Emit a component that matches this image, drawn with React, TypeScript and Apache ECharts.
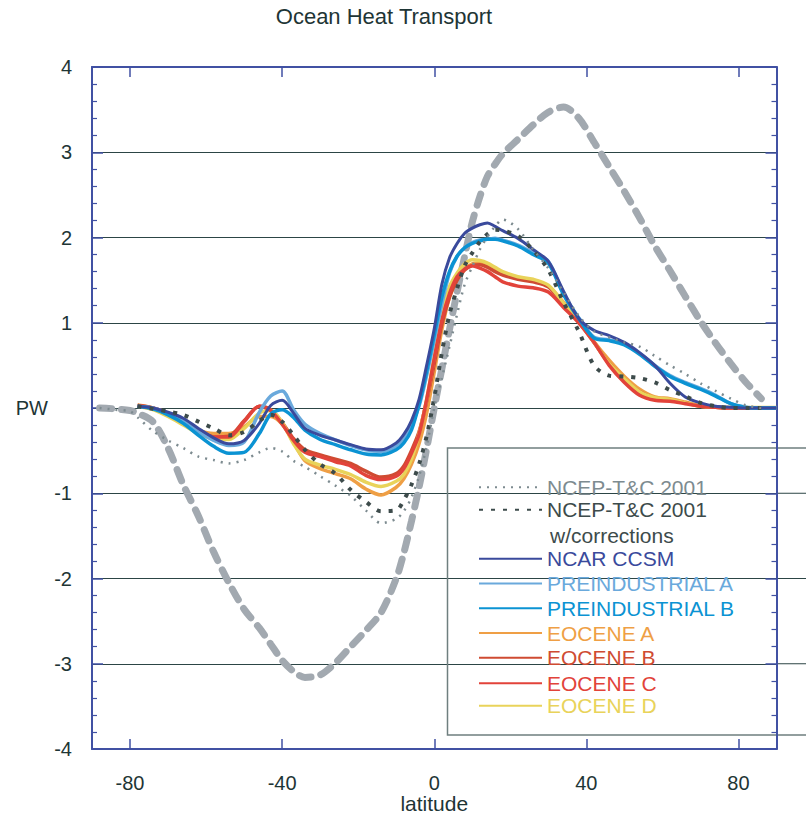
import React, { useEffect, useRef } from 'react';
import * as echarts from 'echarts';

const TITLE = 'Ocean Heat Transport';
const X_NAME = 'latitude';
const Y_NAME = 'PW';
const X_TICKS = [-80, -40, 0, 40, 80];

const LAT = [-88, -84, -80, -78, -74, -70, -66, -62, -58, -54, -50, -46, -43, -40, -37, -34, -30, -26, -22, -18, -14, -10, -8, -6, -4, -2, 0, 2, 4, 6, 8, 10, 12, 14, 16, 18, 22, 26, 30, 34, 38, 42, 46, 50, 54, 58, 62, 66, 70, 74, 78, 82, 86, 90];

const requiredTotal = [0, -0.01, -0.03, -0.06, -0.16, -0.47, -0.9, -1.27, -1.69, -2.05, -2.36, -2.58, -2.77, -2.96, -3.09, -3.16, -3.13, -2.99, -2.8, -2.61, -2.4, -2.0, -1.7, -1.33, -0.93, -0.48, 0.0, 0.46, 0.92, 1.36, 1.78, 2.18, 2.48, 2.72, 2.86, 2.98, 3.15, 3.32, 3.47, 3.53, 3.4, 3.12, 2.83, 2.54, 2.23, 1.9, 1.61, 1.31, 1.02, 0.76, 0.52, 0.3, 0.11, null];

const ncepTC = [0.0, -0.02, -0.04, -0.11, -0.27, -0.38, -0.47, -0.57, -0.61, -0.65, -0.61, -0.52, -0.47, -0.51, -0.62, -0.69, -0.8, -0.91, -1.03, -1.2, -1.35, -1.3, -1.21, -1.05, -0.8, -0.45, 0.0, 0.35, 0.72, 1.1, 1.45, 1.66, 1.86, 2.01, 2.13, 2.21, 2.1, 1.86, 1.64, 1.36, 1.08, 0.9, 0.83, 0.77, 0.72, 0.61, 0.5, 0.4, 0.29, 0.2, 0.11, 0.03, 0.0, null];

const ncepCorrected = [null, null, null, 0.02, -0.01, -0.04, -0.08, -0.16, -0.24, -0.32, -0.28, -0.15, -0.08, -0.16, -0.32, -0.49, -0.66, -0.77, -0.96, -1.1, -1.21, -1.2, -1.08, -0.9, -0.66, -0.33, 0.12, 0.65, 1.1, 1.4, 1.67, 1.82, 1.95, 2.04, 2.09, 2.08, 2.02, 1.85, 1.62, 1.24, 0.9, 0.5, 0.38, 0.37, 0.35, 0.3, 0.21, 0.14, 0.06, 0.02, 0.0, 0.0, 0.0, null];

const ncarCcsm = [null, null, null, 0.02, 0.0, -0.05, -0.12, -0.24, -0.35, -0.42, -0.38, -0.18, 0.03, 0.09, -0.06, -0.24, -0.32, -0.375, -0.43, -0.48, -0.49, -0.41, -0.31, -0.15, 0.1, 0.5, 0.93, 1.45, 1.76, 1.93, 2.05, 2.11, 2.15, 2.17, 2.13, 2.08, 1.99, 1.86, 1.72, 1.37, 1.05, 0.91, 0.85, 0.77, 0.65, 0.5, 0.29, 0.13, 0.06, 0.02, 0.01, 0.0, 0.0, 0.0];

const preindustrialA = [null, null, null, 0.02, 0.0, -0.06, -0.15, -0.28, -0.38, -0.44, -0.4, -0.05, 0.14, 0.2, -0.02, -0.19, -0.3, -0.375, -0.44, -0.49, -0.51, -0.45, -0.37, -0.2, 0.02, 0.38, 0.8, 1.22, 1.58, 1.78, 1.88, 1.94, 1.97, 1.98, 1.99, 1.97, 1.91, 1.82, 1.72, 1.34, 1.06, 0.83, 0.8, 0.75, 0.64, 0.5, 0.38, 0.3, 0.23, 0.15, 0.05, 0.01, 0.0, 0.0];

const preindustrialB = [null, null, null, 0.02, -0.01, -0.08, -0.18, -0.32, -0.45, -0.53, -0.52, -0.3, -0.07, -0.02, -0.11, -0.26, -0.37, -0.43, -0.49, -0.54, -0.55, -0.49, -0.41, -0.26, 0.04, 0.43, 0.86, 1.3, 1.6, 1.78, 1.88, 1.93, 1.96, 1.98, 1.98, 1.96, 1.9, 1.8, 1.7, 1.33, 1.05, 0.82, 0.79, 0.74, 0.63, 0.49, 0.37, 0.29, 0.22, 0.14, 0.05, 0.005, 0.0, 0.0];

const eoceneA = [null, null, null, 0.035, 0.0, -0.08, -0.17, -0.26, -0.3, -0.3, -0.22, -0.1, -0.1, -0.19, -0.4, -0.62, -0.71, -0.77, -0.83, -0.95, -1.02, -0.93, -0.83, -0.66, -0.42, -0.06, 0.42, 0.92, 1.3, 1.51, 1.63, 1.69, 1.7, 1.67, 1.62, 1.58, 1.53, 1.5, 1.43, 1.24, 1.03, 0.78, 0.56, 0.37, 0.22, 0.13, 0.11, 0.07, 0.025, 0.01, 0.005, 0.0, 0.0, 0.0];

const eoceneB = [null, null, null, 0.03, 0.0, -0.06, -0.15, -0.26, -0.34, -0.33, -0.15, 0.02, -0.02, -0.17, -0.36, -0.49, -0.55, -0.6, -0.65, -0.74, -0.81, -0.77, -0.68, -0.5, -0.28, 0.08, 0.52, 0.98, 1.3, 1.5, 1.62, 1.67, 1.68, 1.65, 1.6, 1.56, 1.51, 1.48, 1.42, 1.22, 1.01, 0.77, 0.52, 0.33, 0.19, 0.11, 0.09, 0.06, 0.02, 0.008, 0.0, 0.0, 0.0, 0.0];

const eoceneC = [null, null, null, 0.03, 0.0, -0.06, -0.15, -0.26, -0.34, -0.34, -0.16, 0.02, -0.03, -0.19, -0.38, -0.52, -0.57, -0.63, -0.68, -0.79, -0.84, -0.8, -0.71, -0.53, -0.31, 0.1, 0.58, 1.03, 1.34, 1.54, 1.63, 1.67, 1.64, 1.6, 1.54, 1.48, 1.43, 1.41, 1.36, 1.18, 1.0, 0.77, 0.5, 0.3, 0.15, 0.09, 0.08, 0.05, 0.02, 0.008, 0.0, 0.0, 0.0, 0.0];

const eoceneD = [null, null, null, 0.02, -0.02, -0.1, -0.2, -0.3, -0.36, -0.37, -0.24, -0.06, -0.03, -0.17, -0.42, -0.6, -0.67, -0.72, -0.78, -0.87, -0.92, -0.86, -0.78, -0.6, -0.3, 0.1, 0.6, 1.08, 1.42, 1.58, 1.69, 1.74, 1.73, 1.7, 1.65, 1.6, 1.54, 1.51, 1.44, 1.23, 1.02, 0.77, 0.52, 0.34, 0.19, 0.12, 0.1, 0.06, 0.02, 0.008, 0.005, 0.005, 0.005, 0.005];

const N_NCEP = 'NCEP-T&C 2001';
const N_NCEP_C = 'NCEP-T&C 2001 w/corrections';
const N_NCAR = 'NCAR CCSM';
const N_PIA = 'PREINDUSTRIAL A';
const N_PIB = 'PREINDUSTRIAL B';
const N_EA = 'EOCENE A';
const N_EB = 'EOCENE B';
const N_EC = 'EOCENE C';
const N_ED = 'EOCENE D';

const C_TOTAL = '#a2a9b0';
const C_NCEP = '#7d8b90';
const C_NCEP_C = '#3d4b4b';
const C_NCAR = '#3a4a9c';
const C_PIA = '#6aa9dc';
const C_PIB = '#0b93d3';
const C_EA = '#ef9f45';
const C_EB = '#cf4b32';
const C_EC = '#e2433a';
const C_ED = '#e9d35a';
const C_AXIS = '#4151a3';
const C_GRID = '#2c4545';
const C_TEXT = '#1e3535';

const SANS = '"Liberation Sans", Arial, sans-serif';
const W = 806;
const H = 815;

export default function App() {
  const ref = useRef<HTMLDivElement>(null);
  useEffect(() => {
    document.body.style.margin = '0';
    const chart = echarts.init(ref.current!, null, { renderer: 'svg', width: W, height: H });
    const pts = (vals: (number | null)[]) =>
      LAT.map((x, i) => [x, vals[i]]).filter((p) => p[1] !== null);

    const line = (name: string, vals: (number | null)[], color: string, width: number, type: any = 'solid', extra: any = {}) => ({
      name,
      type: 'line',
      data: pts(vals),
      symbol: 'none',
      showSymbol: false,
      smooth: 0.3,
      lineStyle: { color, width, type, ...extra },
      itemStyle: { color },
      emphasis: { disabled: true },
    });

    const legendBase = {
      orient: 'vertical',
      left: 478,
      padding: 0,
      itemWidth: 63,
      itemHeight: 20,
      selectedMode: false,
      itemStyle: { opacity: 0 },
      textStyle: { fontSize: 21, lineHeight: 20, fontFamily: SANS },
      formatter: (n: string) => (n === N_NCEP_C ? N_NCEP : n),
    };

    const axisCommonX = {
      type: 'value',
      min: -90,
      max: 90,
      axisLine: { show: true, onZero: false, lineStyle: { color: C_AXIS, width: 2 } },
      axisTick: { show: true, inside: true, length: 10, customValues: X_TICKS, lineStyle: { color: C_AXIS, width: 1.5 } },
      splitLine: { show: false },
    };
    const axisCommonY = {
      type: 'value',
      min: -4,
      max: 4,
      interval: 1,
      axisLine: { show: true, onZero: false, lineStyle: { color: C_AXIS, width: 2 } },
      axisTick: { show: true, inside: true, length: 11, lineStyle: { color: C_AXIS, width: 1.5 } },
      minorTick: { show: true, splitNumber: 5, length: 5, lineStyle: { color: C_AXIS, width: 1.2 } },
    };

    chart.setOption({
      animation: false,
      backgroundColor: '#ffffff',
      title: {
        text: TITLE,
        left: 379,
        top: 0,
        textAlign: 'center',
        textStyle: { fontSize: 22, fontWeight: 'normal', fontFamily: SANS, color: C_TEXT },
      },
      grid: { left: 92, top: 67, width: 684.5, height: 682, containLabel: false, outerBoundsMode: 'none' },
      xAxis: [
        {
          ...axisCommonX,
          position: 'bottom',
          name: X_NAME,
          nameLocation: 'middle',
          nameGap: 44,
          nameMoveOverlap: false,
          nameTextStyle: { fontSize: 21, lineHeight: 21, fontFamily: SANS, color: C_TEXT },
          axisLabel: { customValues: X_TICKS, margin: 25, fontSize: 20, lineHeight: 18, fontFamily: SANS, color: C_TEXT },
        },
        {
          ...axisCommonX,
          position: 'top',
          axisLabel: { show: false },
        },
      ],
      yAxis: [
        {
          ...axisCommonY,
          position: 'left',
          splitLine: { show: true, lineStyle: { color: C_GRID, width: 1 } },
          axisLabel: {
            margin: 20,
            fontSize: 20,
            fontFamily: SANS,
            color: C_TEXT,
            formatter: (v: number) => (v === 0 ? '{pw|' + Y_NAME + '}' : String(v)),
            rich: { pw: { fontSize: 20, fontFamily: SANS, color: C_TEXT, padding: [0, 24, 0, 0] } },
          },
        },
        {
          ...axisCommonY,
          position: 'right',
          splitLine: { show: false },
          axisLabel: { show: false },
        },
      ],
      legend: [
        {
          ...legendBase,
          top: 476.7,
          itemGap: 1.6,
          data: [
            { name: N_NCEP, textStyle: { color: C_NCEP } },
            { name: N_NCEP_C, textStyle: { color: C_NCEP_C } },
          ],
        },
        {
          ...legendBase,
          top: 548.3,
          itemGap: 3.75,
          data: [
            { name: N_NCAR, textStyle: { color: C_NCAR } },
            { name: N_PIA, textStyle: { color: C_PIA } },
            { name: N_PIB, textStyle: { color: C_PIB } },
            { name: N_EA, textStyle: { color: C_EA } },
            { name: N_EB, textStyle: { color: C_EB } },
          ],
        },
        {
          ...legendBase,
          top: 672.7,
          itemGap: 1.6,
          data: [
            { name: N_EC, textStyle: { color: C_EC } },
            { name: N_ED, textStyle: { color: C_ED } },
          ],
        },
      ],
      series: [
        line('Required total', requiredTotal, C_TOTAL, 7, [12, 10], { cap: 'round' }),
        line(N_EA, eoceneA, C_EA, 3.5),
        line(N_EB, eoceneB, C_EB, 3.5),
        line(N_ED, eoceneD, C_ED, 3.5),
        line(N_EC, eoceneC, C_EC, 3.5),
        line(N_PIA, preindustrialA, C_PIA, 3.5),
        line(N_PIB, preindustrialB, C_PIB, 3.5),
        line(N_NCAR, ncarCcsm, C_NCAR, 3),
        line(N_NCEP_C, ncepCorrected, C_NCEP_C, 4, [4, 8]),
        line(N_NCEP, ncepTC, C_NCEP, 2.5, [2, 6]),
      ],
    });

    const yPix = (v: number) => chart.convertToPixel({ yAxisIndex: 0 }, v) as number;
    const xRight = chart.convertToPixel({ xAxisIndex: 0 }, 90) as number;
    chart.setOption({
      graphic: [
        {
          type: 'rect',
          shape: { x: 447.5, y: 448, width: 400, height: 287 },
          style: { fill: 'none', stroke: '#6f7f7f', lineWidth: 1.5 },
          silent: true,
        },
        ...[-1, -2, -3].map((v) => ({
          type: 'line',
          shape: { x1: xRight, y1: yPix(v), x2: W, y2: yPix(v) },
          style: { stroke: C_GRID, lineWidth: 1 },
          silent: true,
        })),
        {
          type: 'text',
          x: 550,
          y: 535,
          style: { text: 'w/corrections', fill: C_NCEP_C, fontSize: 21, lineHeight: 20, fontFamily: SANS, verticalAlign: 'middle' },
          silent: true,
        },
      ],
    });

    return () => chart.dispose();
  }, []);

  return <div ref={ref} style={{ position: 'absolute', left: 0, top: 0, width: W, height: H }} />;
}
